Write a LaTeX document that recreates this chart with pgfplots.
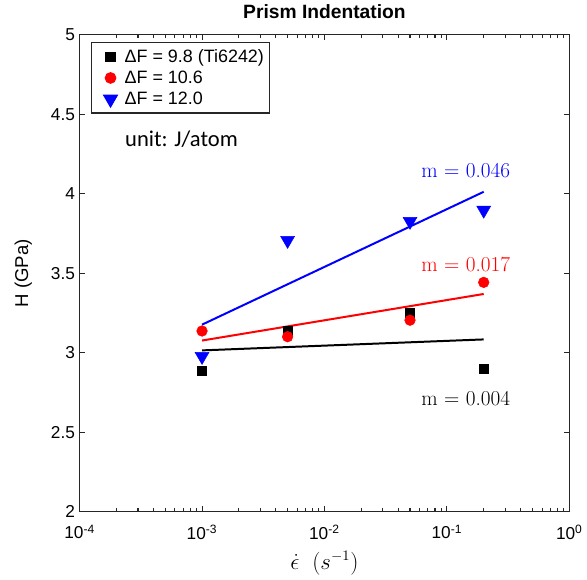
\documentclass[border=0pt]{standalone}
\usepackage{pgfplots}
\pgfplotsset{compat=1.18}
\usepackage{fontspec}
\setsansfont{Liberation Sans}
\newfontfamily\calibri{Carlito}
\begin{document}
\begin{tikzpicture}
\begin{axis}[
  scale only axis, width=369pt, height=359.25pt,
  xmode=log, xmin=1e-4, xmax=1, ymin=2, ymax=5,
  xtick={1e-4,1e-3,1e-2,1e-1,1},
  minor xtick={2e-4,3e-4,4e-4,5e-4,6e-4,7e-4,8e-4,9e-4,
               2e-3,3e-3,4e-3,5e-3,6e-3,7e-3,8e-3,9e-3,
               2e-2,3e-2,4e-2,5e-2,6e-2,7e-2,8e-2,9e-2,
               0.2,0.3,0.4,0.5,0.6,0.7,0.8,0.9},
  xticklabels={10\textsuperscript{-4},10\textsuperscript{-3},10\textsuperscript{-2},10\textsuperscript{-1},10\textsuperscript{0}},
  ytick={2,2.5,3,3.5,4,4.5,5},
  yticklabels={2,2.5,3,3.5,4,4.5,5},
  tick label style={font=\sffamily\fontsize{13}{15}\selectfont},
  xticklabel style={yshift=-6.5pt},
  tick align=inside, xtick pos=both, ytick pos=both,
  major tick length=4pt, minor tick length=2.5pt,
  axis line style={line width=1pt, black!85},
  every tick/.style={black!85, line width=0.8pt},
  title={\sffamily\bfseries Prism Indentation},
  title style={font=\fontsize{14.5}{16}\selectfont, yshift=2.7pt},
  xlabel={$\dot{\epsilon}\ \ (s^{-1})$},
  xlabel style={font=\fontsize{16}{18}\selectfont, at={(axis description cs:0.5,0)}, anchor=center, yshift=-39pt},
  ylabel={\sffamily H (GPa)},
  ylabel style={font=\fontsize{14}{16}\selectfont, yshift=7.5pt},
  legend image code/.code={\path (0cm,0cm) (0.72cm,0cm); \draw[#1, only marks] plot coordinates {(0.43cm,0cm)};},
  legend style={at={(axis description cs:0.0224,0.985)}, anchor=north west,
    font=\sffamily\fontsize{13.5}{15}\selectfont, draw=black!85, line width=0.8pt,
    row sep=1pt, inner xsep=2pt, inner ysep=3pt},
  legend cell align=left,
]
% data points
\addplot[only marks, mark=square*, mark size=3.4pt, black] coordinates {
  (1e-3,2.883) (5e-3,3.136) (5e-2,3.252) (0.2,2.901)};
\addlegendentry{ΔF = 9.8 (Ti6242)}
\addplot[only marks, mark=*, mark size=4pt, red] coordinates {
  (1e-3,3.136) (5e-3,3.10) (5e-2,3.204) (0.2,3.442)};
\addlegendentry{ΔF = 10.6}
\addplot[only marks, mark=triangle*, mark options={rotate=180}, mark size=6pt, blue] coordinates {
  (1e-3,2.976) (5e-3,3.706) (5e-2,3.826) (0.2,3.896)};
\addlegendentry{ΔF = 12.0}
% fit lines
\addplot[forget plot, black, line width=1.5pt] coordinates {(1e-3,3.014) (0.2,3.083)};
\addplot[forget plot, red, line width=1.5pt] coordinates {(1e-3,3.076) (0.2,3.369)};
\addplot[forget plot, blue, line width=1.5pt] coordinates {(1e-3,3.176) (0.2,4.012)};
% annotations
\node[font=\calibri\fontsize{17}{19}\selectfont] at (axis cs:6.8e-4,4.342) {unit: J/atom};
\node[blue, font=\fontsize{16}{18}\selectfont] at (axis cs:0.1426,4.148) {m = 0.046};
\node[red, font=\fontsize{16}{18}\selectfont] at (axis cs:0.1426,3.553) {m = 0.017};
\node[black, font=\fontsize{16}{18}\selectfont] at (axis cs:0.1426,2.708) {m = 0.004};
\coordinate (bbl) at (axis description cs:-0.1626,-0.1378);
\coordinate (btr) at (axis description cs:1.0305,1.0668);
\end{axis}
\path (bbl) rectangle (btr);
\end{tikzpicture}
\end{document}
